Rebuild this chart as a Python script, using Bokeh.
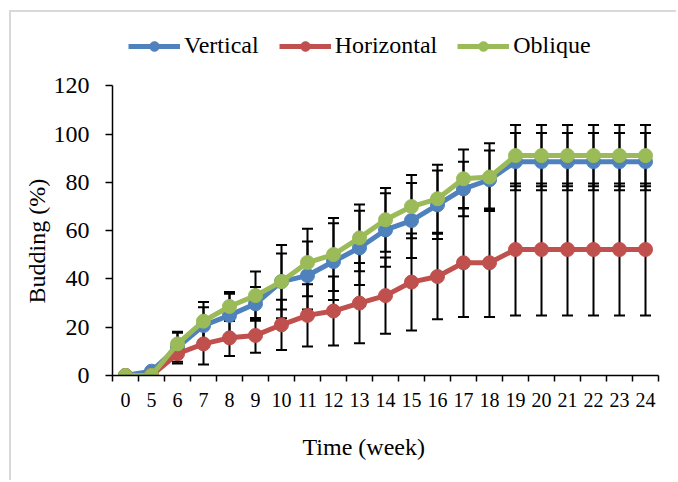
from bokeh.plotting import figure
from bokeh.models import (ColumnDataSource, FixedTicker, Whisker, TeeHead,
                          Legend, LegendItem, Range1d, Title)
from bokeh.embed import file_html
from bokeh.resources import INLINE

# ---- data ----
weeks = ["0", "5", "6", "7", "8", "9", "10", "11", "12", "13", "14", "15",
         "16", "17", "18", "19", "20", "21", "22", "23", "24"]
vertical = [0, 1.8, 11.7, 20.7, 24.9, 29.7, 38.9, 41.4, 47.2, 52.9, 60.3, 64.2,
            70.7, 77.3, 81.1, 88.6, 88.6, 88.6, 88.6, 88.6, 88.6]
horizontal = [0, 0, 9.0, 13.1, 15.6, 16.6, 21.0, 24.9, 26.7, 30.0, 33.1, 38.7,
              41.0, 46.7, 46.7, 52.2, 52.2, 52.2, 52.2, 52.2, 52.2]
oblique = [0, 0, 13.1, 22.5, 28.6, 33.1, 38.9, 46.8, 50.1, 57.0, 64.5, 70.0,
           73.2, 81.5, 82.2, 91.1, 91.1, 91.1, 91.1, 91.1, 91.1]
vertical_err = [0, 0, 6, 7.6, 9, 7, 11.6, 14.1, 15.9, 15.4, 15.2, 15.5,
                14.2, 11.3, 12.1, 11.9, 11.9, 11.9, 11.9, 11.9, 11.9]
horizontal_err = [0, 0, 4, 8.5, 7.5, 7.2, 10.4, 12.9, 14.3, 16.6, 15.8, 20.1,
                  17.7, 22.5, 22.5, 27.3, 27.3, 27.3, 27.3, 27.3, 27.3]
oblique_err = [0, 0, 5, 8, 6, 10, 15.2, 14, 15.1, 13.8, 13.2, 13.1,
               14.1, 12.1, 14, 12.7, 12.7, 12.7, 12.7, 12.7, 12.7]
y_ticks = [0, 20, 40, 60, 80, 100, 120]
x_title = "Time (week)"
y_title = "Budding (%)"

series = [
    ("Vertical", vertical, vertical_err, "#4F81BD"),
    ("Horizontal", horizontal, horizontal_err, "#C0504D"),
    ("Oblique", oblique, oblique_err, "#9BBB59"),
]

FONT = "Liberation Serif"
n = len(weeks)
xs = [i + 0.5 for i in range(n)]

# frame extends above 120 to hold the legend; the y axis is bounded to 0-120
p = figure(width=667, height=470, output_backend="svg", toolbar_location=None,
           x_range=Range1d(0, n), y_range=Range1d(0, 145),
           min_border_left=101, min_border_right=20, min_border_top=13,
           min_border_bottom=107, margin=(10, 0, 0, 9),
           styles={"border-left": "2px solid #d9d9d9",
                   "border-top": "2px solid #d9d9d9"})
p.outline_line_color = None
p.xgrid.visible = False
p.ygrid.visible = False
p.background_fill_color = "white"
p.border_fill_color = "white"

# x axis: labels at category centres, ticks on category boundaries
p.xaxis.ticker = FixedTicker(ticks=xs, minor_ticks=list(range(n + 1)))
p.xaxis.major_label_overrides = {x: w for x, w in zip(xs, weeks)}
p.xaxis.major_tick_line_color = None
p.xaxis.major_tick_out = 0
p.xaxis.major_tick_in = 0
p.xaxis.minor_tick_out = 6
p.xaxis.minor_tick_in = 0
p.xaxis.minor_tick_line_color = "black"
p.xaxis.minor_tick_line_width = 1.5
p.xaxis.major_label_standoff = 11
p.xaxis.major_label_text_font = FONT
p.xaxis.major_label_text_font_size = "20px"
p.xaxis.major_label_text_color = "black"
p.xaxis.axis_line_color = "black"
p.xaxis.axis_line_width = 1.5

p.yaxis.bounds = (0, 120)
p.yaxis.ticker = FixedTicker(ticks=y_ticks, minor_ticks=[])
p.yaxis.major_tick_out = 7
p.yaxis.major_tick_in = 0
p.yaxis.major_tick_line_color = "black"
p.yaxis.major_tick_line_width = 1.5
p.yaxis.major_label_standoff = 16
p.yaxis.major_label_text_font = FONT
p.yaxis.major_label_text_font_size = "24px"
p.yaxis.major_label_text_color = "black"
p.yaxis.axis_line_color = "black"
p.yaxis.axis_line_width = 1.5

# axis titles (placed as titles so they can sit off-centre like the original)
p.add_layout(Title(text=x_title, align="left", offset=190, standoff=44,
                   text_font=FONT, text_font_size="24px",
                   text_font_style="normal", text_color="black"), "below")
p.add_layout(Title(text=y_title, align="left", offset=72, standoff=2,
                   text_font=FONT, text_font_size="24px",
                   text_font_style="normal", text_color="black"), "left")

# error bars (under the lines)
for name, vals, errs, color in series:
    src = ColumnDataSource(dict(x=xs,
                                upper=[v + e for v, e in zip(vals, errs)],
                                lower=[v - e for v, e in zip(vals, errs)]))
    w = Whisker(source=src, base="x", upper="upper", lower="lower",
                line_color="black", line_width=2, level="underlay",
                upper_head=TeeHead(size=11, line_color="black", line_width=2),
                lower_head=TeeHead(size=11, line_color="black", line_width=2))
    p.add_layout(w)

items = []
for name, vals, errs, color in series:
    src = ColumnDataSource(dict(x=xs, y=vals))
    lr = p.line("x", "y", source=src, line_color=color, line_width=5)
    sr = p.scatter("x", "y", source=src, size=14, fill_color=color,
                   line_color=color, marker="circle")
    items.append(LegendItem(label=name, renderers=[lr, sr]))

legend = Legend(items=items, orientation="horizontal", location=(16, 316),
                glyph_width=52, glyph_height=24, label_height=24,
                label_standoff=4, spacing=20, padding=0, margin=0,
                border_line_color=None, background_fill_alpha=0,
                label_text_font=FONT, label_text_font_size="24px",
                label_text_color="black")
p.add_layout(legend, "center")

open("out.html", "w").write(file_html(p, INLINE))
